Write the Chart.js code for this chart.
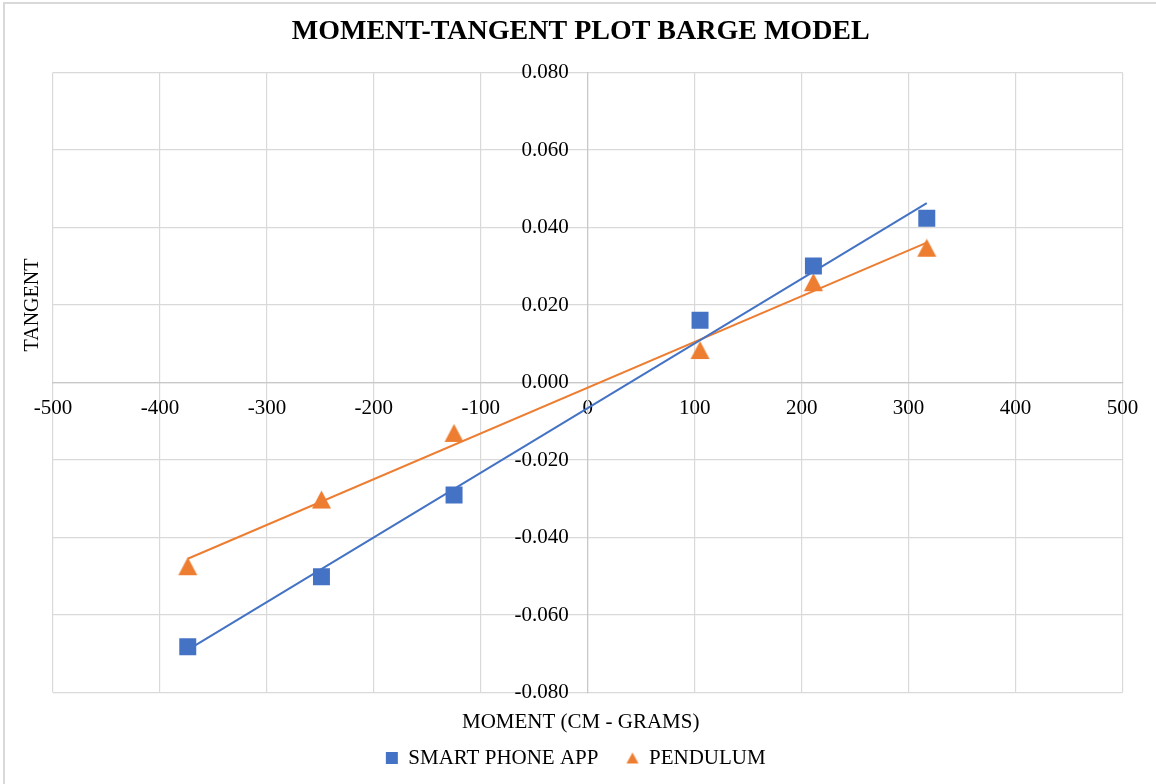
<!DOCTYPE html>
<html>
<head>
<meta charset="utf-8">
<script src="https://cdn.jsdelivr.net/npm/chart.js@4.4.1/dist/chart.umd.min.js"></script>
<style>
html, body { margin: 0; padding: 0; background: #ffffff; }
#wrap { width: 1156px; height: 784px; position: relative; }
canvas { display: block; }
</style>
</head>
<body>
<div id="wrap"><canvas id="c" width="1156" height="784"></canvas></div>
<script>
// ---- data ----
const moments = [-374, -249, -125, 105, 211, 317];
const phoneTangent = [-0.0682, -0.0501, -0.0290, 0.0161, 0.0301, 0.0424];
const pendulumTangent = [-0.0474, -0.0302, -0.0130, 0.0084, 0.0259, 0.0348];
const seriesNames = ['SMART PHONE APP', 'PENDULUM'];
const xTickValues = [-500, -400, -300, -200, -100, 0, 100, 200, 300, 400, 500];
const yTickValues = [-0.08, -0.06, -0.04, -0.02, 0, 0.02, 0.04, 0.06, 0.08];
const chartTitle = 'MOMENT-TANGENT PLOT BARGE MODEL';
const xTitle = 'MOMENT (CM - GRAMS)';
const yTitle = 'TANGENT';

// ---- styles ----
const BLUE = '#4472C4';
const ORANGE = '#ED7D31';
const FONT = "'Liberation Serif', 'Times New Roman', serif";
const Y_LABEL_GAP = 19;    // gap between the y-axis line and its tick labels
const TITLE_SHIFT = -7;    // horizontal nudge of the title
const XTITLE_SHIFT = -7;   // horizontal nudge of the x-axis title
const LEGEND_SHIFT = -12;  // horizontal nudge of the legend

function triangleCanvas(w, h, color) {
  const c = document.createElement('canvas');
  c.width = Math.ceil(w) + 2; c.height = Math.ceil(h) + 2;
  const g = c.getContext('2d');
  const cx = c.width / 2, cy = c.height / 2;
  g.fillStyle = color;
  g.beginPath();
  g.moveTo(cx, cy - h / 2);
  g.lineTo(cx + w / 2, cy + h / 2);
  g.lineTo(cx - w / 2, cy + h / 2);
  g.closePath();
  g.fill();
  return c;
}
const triBig = triangleCanvas(19, 18, ORANGE);
const triSmall = triangleCanvas(12, 11, ORANGE);

function pts(xs, ys) { return xs.map((x, i) => ({x: x, y: ys[i]})); }
function trend(xs, ys) {
  const n = xs.length;
  const mx = xs.reduce((a, b) => a + b, 0) / n;
  const my = ys.reduce((a, b) => a + b, 0) / n;
  let sxy = 0, sxx = 0;
  for (let i = 0; i < n; i++) { sxy += (xs[i] - mx) * (ys[i] - my); sxx += (xs[i] - mx) ** 2; }
  const m = sxy / sxx, b = my - m * mx;
  const x0 = Math.min(...xs), x1 = Math.max(...xs);
  return [{x: x0, y: m * x0 + b}, {x: x1, y: m * x1 + b}];
}

const extraText = {
  id: 'extraText',
  afterLayout(chart) {
    if (chart.titleBlock) { chart.titleBlock.left += TITLE_SHIFT; chart.titleBlock.right += TITLE_SHIFT; }
    if (chart.legend) { chart.legend.left += LEGEND_SHIFT; chart.legend.right += LEGEND_SHIFT; }
    (chart.boxes || []).forEach(b => {
      if (b !== chart.titleBlock && b.options && b.options.text === xTitle) {
        b.left += XTITLE_SHIFT; b.right += XTITLE_SHIFT;
      }
    });
  },
  beforeDraw(chart) {
    const ctx = chart.ctx;
    ctx.save();
    ctx.fillStyle = '#ffffff';
    ctx.fillRect(0, 0, chart.width, chart.height);
    ctx.strokeStyle = '#d9d9d9';
    ctx.lineWidth = 2;
    ctx.beginPath();
    ctx.moveTo(4, chart.height); ctx.lineTo(4, 3); ctx.lineTo(chart.width, 3);
    ctx.stroke();
    ctx.restore();
    // move the y tick labels away from the centred axis line
    const ys = chart.scales.y;
    const items = ys.getLabelItems();
    items.forEach(it => {
      if (!it._gapApplied) { it.options.translation[0] -= Y_LABEL_GAP; it._gapApplied = true; }
    });
  },
  afterDraw(chart) {
    const ctx = chart.ctx;
    ctx.save();
    ctx.fillStyle = '#000000';
    ctx.font = '20px ' + FONT;
    ctx.textAlign = 'center';
    ctx.textBaseline = 'middle';
    ctx.translate(33, 305);
    ctx.rotate(-Math.PI / 2);
    ctx.fillText(yTitle, 0, 0);
    ctx.restore();
  }
};

const ctx = document.getElementById('c').getContext('2d');
new Chart(ctx, {
  type: 'scatter',
  data: {
    datasets: [
      {
        label: seriesNames[0],
        data: pts(moments, phoneTangent),
        backgroundColor: BLUE,
        borderColor: BLUE,
        borderWidth: 0,
        pointStyle: 'rect',
        pointRadius: 12,
        pointHoverRadius: 12,
        order: 1
      },
      {
        label: seriesNames[1],
        data: pts(moments, pendulumTangent),
        backgroundColor: ORANGE,
        borderColor: ORANGE,
        borderWidth: 0,
        pointStyle: triBig,
        pointRadius: 10,
        pointHoverRadius: 10,
        order: 1
      },
      {
        label: 'trend-phone',
        data: trend(moments, phoneTangent),
        showLine: true,
        borderColor: BLUE,
        borderWidth: 2,
        pointRadius: 0,
        pointHoverRadius: 0,
        fill: false,
        order: 2
      },
      {
        label: 'trend-pendulum',
        data: trend(moments, pendulumTangent),
        showLine: true,
        borderColor: ORANGE,
        borderWidth: 2,
        pointRadius: 0,
        pointHoverRadius: 0,
        fill: false,
        order: 2
      }
    ]
  },
  options: {
    responsive: false,
    animation: false,
    devicePixelRatio: 1,
    layout: { padding: { left: 53, right: 33.5, top: 0, bottom: 5.5 } },
    scales: {
      x: {
        type: 'linear',
        position: { y: 0 },
        min: -500, max: 500,
        afterBuildTicks: (axis) => { axis.ticks = xTickValues.map(v => ({value: v})); },
        grid: { color: '#d9d9d9', lineWidth: 1.2, drawTicks: false },
        border: { color: '#c8c8c8', width: 1.2 },
        ticks: {
          color: '#000000',
          font: { family: FONT, size: 21 },
          padding: 13,
          maxRotation: 0,
          autoSkip: false,
          callback: (v) => String(Math.round(v))
        }
      },
      y: {
        type: 'linear',
        position: { x: 0 },
        min: -0.08, max: 0.08,
        afterBuildTicks: (axis) => { axis.ticks = yTickValues.map(v => ({value: v})); },
        grid: { color: '#d9d9d9', lineWidth: 1.2, drawTicks: false },
        border: { color: '#c8c8c8', width: 1.2 },
        ticks: {
          color: '#000000',
          font: { family: FONT, size: 21 },
          padding: 19,
          autoSkip: false,
          callback: (v) => (Math.abs(v) < 1e-9 ? 0 : v).toFixed(3)
        }
      }
    },
    plugins: {
      tooltip: { enabled: false },
      title: {
        display: true,
        text: chartTitle,
        color: '#000000',
        font: { family: FONT, size: 28, weight: 'bold' },
        padding: { top: 15, bottom: 24 }
      },
      subtitle: {
        display: true,
        text: xTitle,
        position: 'bottom',
        weight: 500,
        color: '#000000',
        font: { family: FONT, size: 21, weight: 'normal' },
        padding: { top: 16.9, bottom: -15.1 }
      },
      legend: {
        display: true,
        position: 'bottom',
        labels: {
          color: '#000000',
          font: { family: FONT, size: 21 },
          usePointStyle: true,
          boxWidth: 12,
          boxHeight: 12,
          padding: 28,
          filter: (item) => item.datasetIndex < 2,
          generateLabels: (chart) => {
            const items = Chart.defaults.plugins.legend.labels.generateLabels(chart);
            items.forEach(it => {
              if (it.datasetIndex === 1) { it.pointStyle = triSmall; }
              it.lineWidth = 0;
            });
            return items;
          }
        }
      }
    }
  },
  plugins: [extraText]
});
</script>
</body>
</html>
